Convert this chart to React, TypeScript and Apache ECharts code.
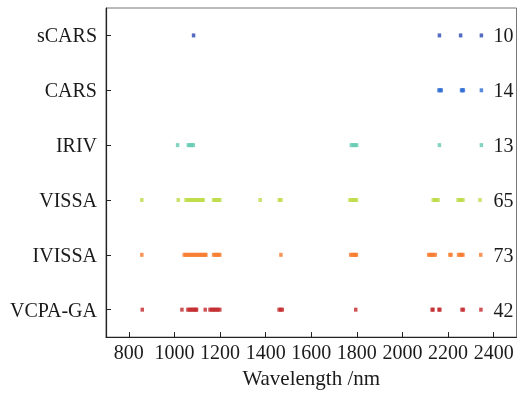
import React, { useEffect, useRef } from "react";
import * as echarts from "echarts";

const categories = ["VCPA-GA", "IVISSA", "VISSA", "IRIV", "CARS", "sCARS"];
const counts = [42, 73, 65, 13, 14, 10];
const xTicks = [800, 1000, 1200, 1400, 1600, 1800, 2000, 2200, 2400];
const colors = ["#c3282c", "#f77a2c", "#bddc45", "#63cbb2", "#2f6ed4", "#2846b2"];

const vcpaGA = [859, 1033, 1059, 1066, 1073, 1080, 1087, 1094, 1097, 1135, 1156, 1163, 1170, 1177, 1184, 1191, 1199, 1459, 1466, 1473, 1795, 2130, 2134, 2160, 2164, 2261, 2267, 2344];
const ivissa = [857, 1043, 1050, 1057, 1064, 1071, 1078, 1085, 1092, 1099, 1106, 1113, 1120, 1127, 1134, 1138, 1172, 1179, 1186, 1193, 1199, 1467, 1773, 1780, 1787, 1794, 1798, 2115, 2122, 2129, 2136, 2144, 2208, 2213, 2246, 2253, 2260, 2265, 2343];
const vissa = [857, 1017, 1051, 1058, 1065, 1072, 1079, 1086, 1093, 1100, 1107, 1114, 1121, 1126, 1172, 1179, 1186, 1193, 1199, 1376, 1460, 1467, 1770, 1777, 1784, 1791, 1798, 2135, 2142, 2149, 2156, 2244, 2251, 2258, 2265, 2340];
const iriv = [1014, 1061, 1068, 1076, 1083, 1776, 1784, 1792, 1799, 2162, 2346];
const cars = [2160, 2165, 2170, 2259, 2263, 2267, 2346];
const scars = [1084, 2162, 2255, 2346];

const seriesValues = [vcpaGA, ivissa, vissa, iriv, cars, scars];

const FONT = "Liberation Serif";

export default function App() {
  const ref = useRef<HTMLDivElement>(null);
  useEffect(() => {
    if (!ref.current) return;
    const chart = echarts.init(ref.current, null, { renderer: "svg" });
    chart.setOption({
      animation: false,
      grid: {
        left: 106,
        right: 1.5,
        top: 8,
        bottom: 54,
        show: true,
        borderColor: "#777",
        borderWidth: 1,
      },
      xAxis: {
        type: "value",
        min: 700,
        max: 2500,
        name: "Wavelength /nm",
        nameLocation: "middle",
        nameGap: 25,
        nameTextStyle: { fontFamily: FONT, fontSize: 21, color: "#1a1a1a" },
        splitLine: { show: false },
        axisLine: { show: true, lineStyle: { color: "#222", width: 1.2 } },
        axisTick: { show: true, inside: true, length: 5, customValues: xTicks, lineStyle: { color: "#222" } },
        axisLabel: {
          customValues: xTicks,
          formatter: (v: number) => String(v),
          fontFamily: FONT,
          fontSize: 20,
          color: "#1a1a1a",
          margin: 5,
        },
      },
      yAxis: [
        {
          type: "category",
          data: categories,
          boundaryGap: true,
          axisLine: { show: true, lineStyle: { color: "#222", width: 1.2 } },
          axisTick: { show: true, inside: true, length: 5, alignWithLabel: true, lineStyle: { color: "#222" } },
          axisLabel: { fontFamily: FONT, fontSize: 20, color: "#1a1a1a", margin: 9 },
          splitLine: { show: false },
        },
        {
          type: "category",
          data: counts.map(String),
          position: "right",
          boundaryGap: true,
          axisLine: { show: false },
          axisTick: { show: false },
          axisLabel: { inside: true, fontFamily: FONT, fontSize: 20, color: "#1a1a1a", margin: 3 },
          splitLine: { show: false },
        },
      ],
      series: seriesValues.map((vals, i) => ({
        type: "scatter",
        name: categories[i],
        symbol: "rect",
        symbolSize: [3.5, 4],
        itemStyle: { color: colors[i] },
        data: vals.map((v) => [v, categories[i]]),
      })),
    });
    return () => chart.dispose();
  }, []);
  return <div ref={ref} style={{ position: "fixed", left: 0, top: 0, width: 518, height: 393 }} />;
}
